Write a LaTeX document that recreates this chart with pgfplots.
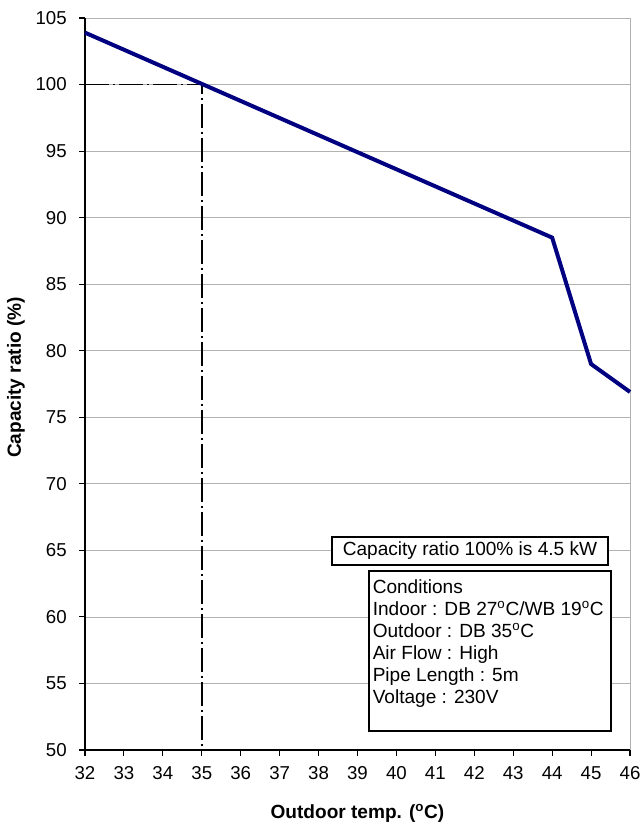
\documentclass[border=0pt]{standalone}
\usepackage{pgfplots}
\pgfplotsset{compat=1.18}
\usepackage{fontspec}
\setmainfont{Liberation Sans}
\definecolor{navyline}{RGB}{0,0,128}
\begin{document}
\begin{tikzpicture}
\path[use as bounding box] (-63.75pt,-58.5pt) rectangle (416.25pt,562.5pt);
\begin{axis}[
  at={(0,0)}, anchor=south west,
  scale only axis, width=408.75pt, height=549pt,
  xmin=32, xmax=46, ymin=50, ymax=105,
  xtick={32,33,...,46}, ytick={50,55,...,105},
  axis x line*=bottom, axis y line*=left,
  axis line style={black, line width=0.8pt},
  tick align=outside, major tick length=4.5pt,
  tick style={black, line width=0.8pt},
  ymajorgrids, grid style={gray!60, line width=0.6pt},
  /pgf/number format/assume math mode=true,
  ticklabel style={font=\fontsize{14}{16}\selectfont},
  xticklabel style={inner sep=1pt, yshift=-7pt},
  yticklabel style={inner sep=1.5pt, xshift=-7.5pt},
  xlabel={\textbf{Outdoor temp. (\textsuperscript{o}C)}},
  ylabel={\textbf{Capacity ratio (\%)}},
  xlabel style={at={(axis description cs:0.5,-0.0865)}, anchor=center, font=\fontsize{14.3}{16}\selectfont},
  ylabel style={at={(axis description cs:-0.1266,0.509)}, anchor=center, font=\fontsize{14.3}{16}\selectfont},
  clip=false,
]
\draw[gray!60, line width=0.6pt] (axis cs:46,50) -- (axis cs:46,105);
\addplot[black, line width=1.2pt, dash pattern=on 18pt off 3pt on 1.5pt off 3pt] coordinates {(32,100) (35,100) (35,50)};
\addplot[navyline, line width=3pt] coordinates {(32,103.9) (44,88.5) (45,79) (46,76.9)};
\node[draw=black, line width=0.8pt, fill=white, minimum width=207pt, minimum height=21pt, inner sep=0pt,
  font=\fontsize{14.3}{16}\selectfont] at (axis cs:41.89,64.95) {Capacity ratio 100\% is 4.5 kW};
\draw[black, line width=1.3pt, fill=white] (axis cs:39.30,51.43) rectangle (axis cs:45.51,63.45);
\node[anchor=north west, align=left, inner xsep=2.5pt, inner ysep=6pt,
  font=\fontsize{14.3}{16.5}\selectfont] at (axis cs:39.30,63.45)
  {Conditions\\Indoor : DB 27\textsuperscript{o}C/WB 19\textsuperscript{o}C\\Outdoor : DB 35\textsuperscript{o}C\\Air Flow : High\\Pipe Length : 5m\\Voltage : 230V};
\end{axis}
\end{tikzpicture}
\end{document}
